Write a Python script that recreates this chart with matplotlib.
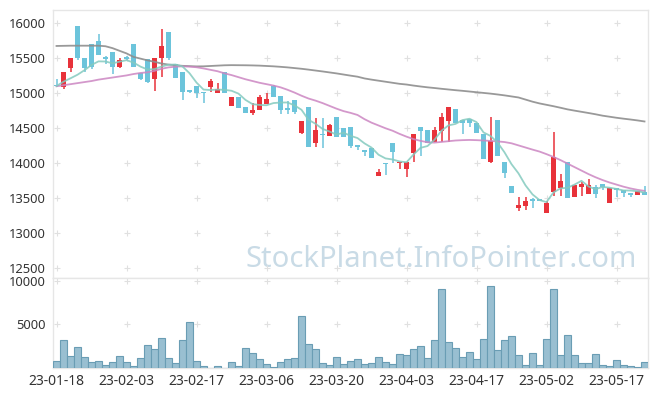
import numpy as np
import pandas as pd
import matplotlib
matplotlib.use('Agg')
import matplotlib.pyplot as plt

# daily prices, 2023-01-18 .. 2023-05-23 (KRX trading days)
holidays = ['2023-01-23', '2023-01-24', '2023-03-01', '2023-05-01', '2023-05-05']
dates = pd.bdate_range('2023-01-18', periods=85, freq='C', holidays=holidays)

opens = [15110, 15095, 15357, 15960, 15500, 15700, 15750, 15510, 15585, 15370,
         15500, 15700, 15285, 15486, 15200, 15500, 15870, 15414, 15300, 15030,
         15104, 15024, 15095, 15010, 15300, 14824, 14943, 14800, 14724, 14762,
         14843, 15105, 14962, 14771, 14905, 14433, 14800, 14286, 14410, 14390,
         14657, 14500, 14514, 14262, 14190, 14214, 13824, 14010, 14286, 14000,
         13914, 14143, 14514, 14476, 14310, 14467, 14610, 14776, 14619, 14629,
         14571, 14419, 14014, 14619, 14024, 13676, 13367, 13395, 13470, 13470,
         13286, 13595, 13652, 14024, 13514, 13667, 13557, 13667, 13705, 13428,
         13633, 13619, 13562, 13548, 13595]
highs = [15200, 15300, 15500, 15960, 15500, 15700, 15850, 15530, 15585, 15500,
         15530, 15700, 15285, 15486, 15500, 15914, 15870, 15414, 15300, 15050,
         15104, 15024, 15205, 15143, 15300, 14943, 14943, 14800, 14857, 14971,
         15010, 15120, 14962, 14895, 14905, 14605, 14800, 14643, 14643, 14562,
         14657, 14500, 14514, 14262, 14190, 14214, 13914, 14010, 14286, 14024,
         14024, 14419, 14514, 14476, 14524, 14714, 14800, 14776, 14619, 14629,
         14571, 14419, 14667, 14619, 14024, 13676, 13524, 13524, 13500, 13475,
         13460, 14443, 13843, 14024, 13690, 13733, 13781, 13686, 13705, 13643,
         13633, 13619, 13562, 13610, 13676]
lows = [15090, 15060, 15300, 15480, 15300, 15340, 15540, 15420, 15270, 15360,
        15470, 15370, 15190, 15150, 15033, 15238, 15480, 15214, 14904, 15000,
        14928, 14857, 15024, 15005, 15000, 14824, 14795, 14715, 14695, 14760,
        14843, 14940, 14700, 14700, 14700, 14414, 14238, 14238, 14214, 14390,
        14381, 14381, 14214, 14190, 14105, 14081, 13824, 13833, 14000, 13914,
        13810, 14024, 14105, 14295, 14310, 14310, 14310, 14571, 14419, 14524,
        14429, 14062, 14000, 14105, 13786, 13581, 13324, 13333, 13357, 13455,
        13286, 13533, 13533, 13500, 13514, 13533, 13557, 13500, 13614, 13428,
        13514, 13514, 13524, 13548, 13548]
closes = [15100, 15300, 15500, 15500, 15360, 15380, 15540, 15490, 15370, 15476,
          15490, 15370, 15200, 15166, 15500, 15676, 15500, 15214, 15024, 15020,
          15009, 15000, 15176, 15062, 15000, 14943, 14795, 14724, 14762, 14943,
          14919, 14952, 14762, 14762, 14738, 14605, 14238, 14476, 14400, 14548,
          14381, 14381, 14252, 14238, 14167, 14081, 13871, 13986, 14167, 14024,
          14024, 14419, 14467, 14295, 14476, 14667, 14800, 14571, 14571, 14571,
          14429, 14062, 14319, 14105, 13867, 13581, 13405, 13462, 13460, 13460,
          13438, 14095, 13752, 13500, 13690, 13710, 13690, 13557, 13657, 13643,
          13619, 13581, 13548, 13610, 13548]
volumes = [850, 3230, 1380, 2460, 1270, 730, 850, 380, 730, 1380,
           730, 230, 1190, 2580, 2120, 3460, 1190, 620, 3150, 5230,
           850, 230, 0, 230, 0, 730, 230, 2310, 1770, 1080,
           500, 150, 730, 1080, 1190, 5920, 2770, 2120, 600, 370,
           1270, 460, 810, 1040, 460, 580, 1270, 690, 460, 1620,
           1500, 2190, 2540, 1150, 3230, 9000, 3000, 2310, 1270, 1850,
           1040, 3350, 9350, 2080, 3230, 3690, 1500, 350, 1730, 350,
           3350, 9000, 1500, 3810, 1500, 580, 580, 1620, 350, 230,
           920, 350, 230, 120, 690]

# moving averages as drawn (5 / 20 / 120 day)
ma5 = [15104, 15165, 15214, 15265, 15330, 15405, 15456, 15454, 15428, 15451,
       15473, 15439, 15381, 15340, 15345, 15382, 15408, 15411, 15383, 15287,
       15153, 15053, 15046, 15053, 15049, 15036, 14995, 14905, 14845, 14833,
       14829, 14860, 14868, 14868, 14827, 14764, 14621, 14564, 14491, 14453,
       14409, 14437, 14392, 14360, 14284, 14224, 14122, 14069, 14054, 14026,
       14014, 14124, 14220, 14246, 14336, 14465, 14541, 14562, 14617, 14636,
       14588, 14441, 14390, 14297, 14156, 13987, 13855, 13684, 13555, 13474,
       13445, 13583, 13641, 13649, 13695, 13749, 13668, 13629, 13661, 13651,
       13633, 13611, 13610, 13600, 13581]
ma20 = [15100, 15115, 15130, 15145, 15160, 15175, 15195, 15210, 15225, 15240,
        15255, 15275, 15290, 15300, 15320, 15350, 15370, 15380, 15385, 15380,
        15372, 15355, 15335, 15315, 15285, 15260, 15230, 15200, 15175, 15150,
        15130, 15110, 15085, 15050, 15010, 14965, 14925, 14895, 14860, 14820,
        14780, 14745, 14720, 14690, 14630, 14580, 14540, 14500, 14465, 14420,
        14380, 14345, 14320, 14300, 14295, 14305, 14315, 14325, 14330, 14333,
        14330, 14325, 14319, 14312, 14303, 14285, 14255, 14225, 14195, 14167,
        14130, 14090, 14045, 13995, 13945, 13895, 13845, 13800, 13760, 13725,
        13695, 13665, 13640, 13620, 13605]
ma120 = [15676, 15678, 15680, 15680, 15680, 15680, 15680, 15672, 15645, 15607,
         15570, 15520, 15495, 15470, 15450, 15425, 15410, 15400, 15392, 15388,
         15384, 15385, 15390, 15395, 15400, 15402, 15401, 15400, 15398, 15395,
         15390, 15385, 15378, 15370, 15360, 15350, 15338, 15325, 15312, 15298,
         15284, 15268, 15252, 15237, 15212, 15195, 15180, 15165, 15150, 15135,
         15125, 15110, 15097, 15085, 15075, 15064, 15054, 15044, 15035, 15025,
         15015, 15005, 14995, 14983, 14970, 14955, 14940, 14910, 14880, 14855,
         14835, 14815, 14793, 14770, 14752, 14735, 14718, 14700, 14680, 14665,
         14650, 14637, 14625, 14612, 14597]

UP = '#e8323a'
DOWN = '#6cc4db'
EDGE = '#e6e6e6'

df = pd.DataFrame({'open': opens, 'high': highs, 'low': lows, 'close': closes,
                   'volume': volumes}, index=dates)
x = np.arange(len(df))

fig = plt.figure(figsize=(6.57, 3.96), dpi=100)
ax = fig.add_axes([53 / 657, 1 - 278 / 396, 595 / 657, 268 / 396])
axv = fig.add_axes([53 / 657, 1 - 368 / 396, 595 / 657, 90 / 396], sharex=ax)

# candles
colors = np.where(df['close'] >= df['open'], UP, DOWN)
body_lo = np.minimum(df['open'], df['close'])
body_h = np.maximum(np.abs(df['close'] - df['open']), 22)
ax.vlines(x, df['low'], df['high'], colors=colors, linewidth=1.1, zorder=3)
ax.bar(x, body_h, bottom=body_lo, width=0.7, color=colors, linewidth=0, zorder=4)

ax.plot(x, ma120, color='#8e8e8e', linewidth=1.3, alpha=0.9, zorder=5)
ax.plot(x, ma20, color='#cc86c2', linewidth=1.3, alpha=0.85, zorder=5)
ax.plot(x, ma5, color='#84cabf', linewidth=1.3, alpha=0.85, zorder=5)

axv.bar(x, df['volume'], width=1.0, color='#99bfd1', edgecolor='#6a9db4',
        linewidth=0.8, zorder=3)

price_ticks = np.arange(12500, 16001, 500)
vol_ticks = [5000, 10000]
xt = x[::10]

ax.set_xlim(-0.5, 84.5)
ax.set_ylim(12360, 16190)
axv.set_ylim(0, 10300)
ax.set_yticks(price_ticks)
axv.set_yticks(vol_ticks)
axv.set_xticks(xt)
axv.set_xticklabels(df.index[::10].strftime('%y-%m-%d'))
plt.setp(ax.get_xticklabels(), visible=False)

# little "+" grid marks
for a, yt in ((ax, price_ticks), (axv, vol_ticks)):
    gx, gy = np.meshgrid(xt, yt)
    a.scatter(gx.ravel(), gy.ravel(), marker='+', s=16, color='#e0e0e0',
              linewidth=0.8, zorder=1)
    a.tick_params(length=0, pad=5, labelsize=9.3, colors='#333333')
    for s in a.spines.values():
        s.set_color(EDGE)
        s.set_linewidth(1)
    for lab in a.get_xticklabels() + a.get_yticklabels():
        lab.set_family('Noto Sans')
axv.tick_params(axis='x', pad=4, labelsize=10)

ax.text(0.323, 0.042, 'StockPlanet.InfoPointer.com', transform=ax.transAxes,
        fontsize=21, family='Noto Sans', color='#c9dbe6', ha='left',
        va='baseline', zorder=0)

fig.savefig('out.png', dpi=100)
